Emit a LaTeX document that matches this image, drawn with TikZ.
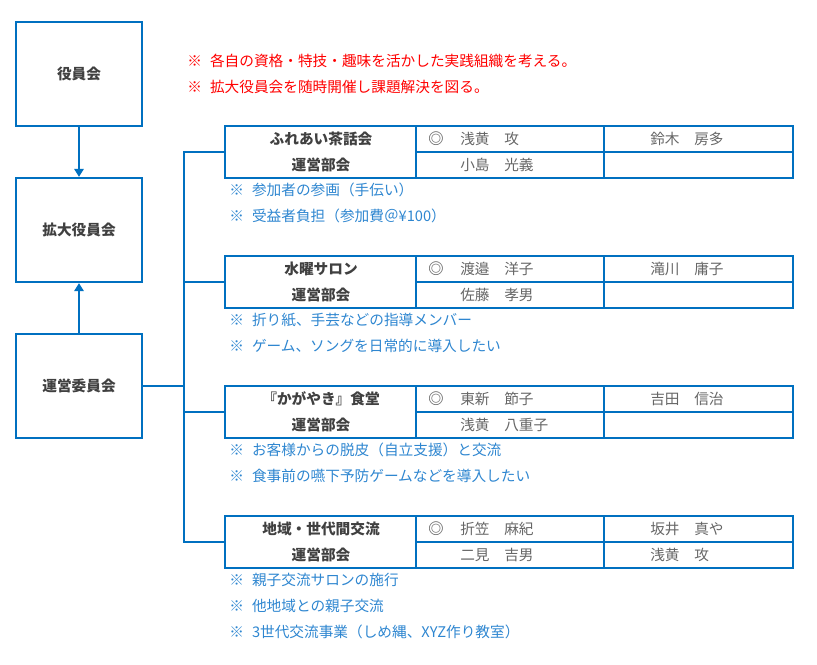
\documentclass[tikz,border=0pt]{standalone}
\usepackage{fontspec}
\setmainfont{Noto Sans CJK JP}
\usepackage{tikz}
\usetikzlibrary{arrows.meta}
\definecolor{frame}{HTML}{0070C0}
\definecolor{note}{HTML}{2E86D0}
\definecolor{alert}{HTML}{FF0000}
\definecolor{head}{HTML}{404040}
\definecolor{member}{HTML}{666666}
\tikzset{
  box/.style={draw=frame, line width=1.7pt, minimum width=94.5pt, minimum height=78pt, text=head, font=\bfseries\fontsize{11}{13}\selectfont},
  tbl/.style={draw=frame, line width=1.7pt, minimum width=426pt, minimum height=39pt, inner sep=0pt},
  grid/.style={draw=frame, line width=0.8pt},
  link/.style={draw=frame, line width=1.7pt},
  tip/.style={-{Triangle[length=6pt,width=7pt]}},
  ttl/.style={text=head, inner sep=0pt, font=\bfseries\fontsize{11}{13}\selectfont},
  mem/.style={text=member, inner sep=0pt, anchor=west, font=\fontsize{11}{13}\selectfont},
  mark2/.style={mem, font=\bfseries\fontsize{11.5}{13}\selectfont},
  rem/.style={text=note, inner sep=0pt, anchor=west, font=\fontsize{11}{13}\selectfont},
  warn/.style={text=alert, inner sep=0pt, anchor=west, font=\fontsize{11}{13}\selectfont},
}
\newcommand{\kome}{※\hspace{0.55em}}

\begin{document}
\begin{tikzpicture}[x=0.75pt,y=-0.75pt]
  \useasboundingbox (0,0) rectangle (817,664);

  % left column
  \node[box] (Y) at (79,74) {役員会};
  \node[box] (K) at (79,230) {拡大役員会};
  \node[box] (U) at (79,386) {運営委員会};
  \draw[link,tip] (Y) -- (K);
  \draw[link,tip] (U) -- (K);

  \node[warn] (W1) at (187,61) {\kome 各自の資格・特技・趣味を活かした実践組織を考える。};
  \node[warn] (W2) at (187,87) {\kome 拡大役員会を随時開催し課題解決を図る。};

  % tables
  \node[tbl] (T1) at (509,152) {};
  \node[tbl] (T2) at (509,282) {};
  \node[tbl] (T3) at (509,412) {};
  \node[tbl] (T4) at (509,542) {};

  % bus
  \coordinate (bus) at (184,386);
  \draw[link] (U.east) -- (bus);
  \draw[link] (T1.west) -| (bus);
  \draw[link] (T2.west) -| (bus);
  \draw[link] (T3.west) -| (bus);
  \draw[link] (T4.west) -| (bus);

  % table 1
  \draw[grid] (416,126) -- (416,178);
  \draw[grid] (604,126) -- (604,178);
  \draw[grid] (416,152) -- (793,152);
  \node[ttl] (t1a) at (321,139) {ふれあい茶話会};
  \node[ttl] (t1b) at (321,165) {運営部会};
  \node[mark2] (c1) at (428,139) {◎};
  \node[mem] (m1a) at (460,139) {浅黄　攻};
  \node[mem] (m1b) at (460,165) {小島　光義};
  \node[mem] (m1c) at (650,139) {鈴木　房多};
  \node[rem] (r1a) at (229,190) {\kome 参加者の参画（手伝い）};
  \node[rem] (r1b) at (229,216) {\kome 受益者負担（参加費＠¥100）};

  % table 2
  \draw[grid] (416,256) -- (416,308);
  \draw[grid] (604,256) -- (604,308);
  \draw[grid] (416,282) -- (793,282);
  \node[ttl] (t2a) at (321,269) {水曜サロン};
  \node[ttl] (t2b) at (321,295) {運営部会};
  \node[mark2] (c2) at (428,269) {◎};
  \node[mem] (m2a) at (460,269) {渡邉　洋子};
  \node[mem] (m2b) at (460,295) {佐藤　孝男};
  \node[mem] (m2c) at (650,269) {滝川　庸子};
  \node[rem] (r2a) at (229,320) {\kome 折り紙、手芸などの指導メンバー};
  \node[rem] (r2b) at (229,346) {\kome ゲーム、ソングを日常的に導入したい};

  % table 3
  \draw[grid] (416,386) -- (416,438);
  \draw[grid] (604,386) -- (604,438);
  \draw[grid] (416,412) -- (793,412);
  \node[ttl] (t3a) at (321,399) {『かがやき』食堂};
  \node[ttl] (t3b) at (321,425) {運営部会};
  \node[mark2] (c3) at (428,399) {◎};
  \node[mem] (m3a) at (460,399) {東新　節子};
  \node[mem] (m3b) at (460,425) {浅黄　八重子};
  \node[mem] (m3c) at (650,399) {吉田　信治};
  \node[rem] (r3a) at (229,450) {\kome お客様からの脱皮（自立支援）と交流};
  \node[rem] (r3b) at (229,476) {\kome 食事前の嚥下予防ゲームなどを導入したい};

  % table 4
  \draw[grid] (416,516) -- (416,568);
  \draw[grid] (604,516) -- (604,568);
  \draw[grid] (416,542) -- (793,542);
  \node[ttl] (t4a) at (321,529) {地域・世代間交流};
  \node[ttl] (t4b) at (321,555) {運営部会};
  \node[mark2] (c4) at (428,529) {◎};
  \node[mem] (m4a) at (460,529) {折笠　麻紀};
  \node[mem] (m4b) at (460,555) {二見　吉男};
  \node[mem] (m4c) at (650,529) {坂井　真や};
  \node[mem] (m4d) at (650,555) {浅黄　攻};
  \node[rem] (r4a) at (229,580) {\kome 親子交流サロンの施行};
  \node[rem] (r4b) at (229,606) {\kome 他地域との親子交流};
  \node[rem] (r4c) at (229,632) {\kome 3世代交流事業（しめ縄、XYZ作り教室）};
\end{tikzpicture}
\end{document}
